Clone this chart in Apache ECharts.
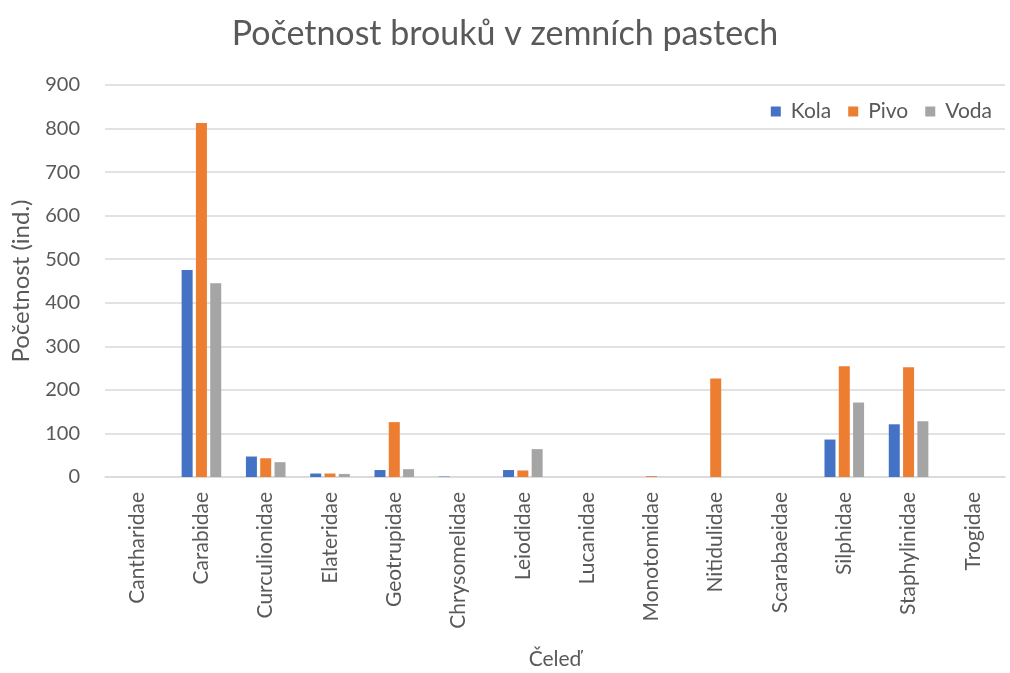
<!DOCTYPE html>
<html>
<head>
<meta charset="utf-8">
<script src="https://cdn.jsdelivr.net/npm/echarts@6/dist/echarts.min.js"></script>
<style>
 html,body{margin:0;padding:0;background:#fff;}
 #chart_bar{width:1010px;height:673px;}
</style>
</head>
<body>
<div id="chart_bar"></div>
<script>
// data
var celed = ["Cantharidae","Carabidae","Curculionidae","Elateridae","Geotrupidae","Chrysomelidae","Leiodidae","Lucanidae","Monotomidae","Nitidulidae","Scarabaeidae","Silphidae","Staphylinidae","Trogidae"];
var kola = [0, 475, 47, 8, 16, 1, 16, 0, 0, 0, 0, 86, 121, 0];
var pivo = [0, 813, 43, 8, 126, 0, 15, 0, 2, 226, 0, 254, 252, 0];
var voda = [0, 445, 34, 7, 18, 0, 64, 0, 0, 0, 0, 171, 128, 0];
var yTicks = [0, 100, 200, 300, 400, 500, 600, 700, 800, 900];

var font = "Lato, 'Open Sans', sans-serif";
var chart = echarts.init(document.getElementById("chart_bar")); //graf

function serie(name, data, color){
  return {name:name, type:"bar", data:data, barWidth:11, barGap:"30%",
          itemStyle:{color:color}};
}

chart.setOption({
  animation:false,
  textStyle:{fontFamily:font},
  title:{text:"Početnost brouků v zemních pastech", left:"center", top:12,
         textStyle:{fontSize:34, fontWeight:"normal", color:"#595959", fontFamily:font}},
  legend:{right:13, top:96, itemWidth:10, itemHeight:10, itemGap:17, icon:"rect",
          textStyle:{fontSize:21, color:"#595959", padding:[0,0,0,5]}, data:["Kola","Pivo","Voda"]},
  grid:{left:105, right:5, top:85, bottom:196, outerBoundsMode:"none", containLabel:false},
  xAxis:{type:"category", data:celed, name:"Čeleď", nameLocation:"middle", nameGap:172,
         nameTextStyle:{fontSize:21, color:"#595959"},
         axisLine:{lineStyle:{color:"#D9D9D9", width:1.5}}, axisTick:{show:false},
         axisLabel:{rotate:90, fontSize:21, color:"#595959", margin:15, interval:0}},
  yAxis:{type:"value", min:yTicks[0], max:yTicks[yTicks.length-1], interval:100,
         name:"Početnost (ind.)", nameLocation:"middle", nameGap:72,
         nameTextStyle:{fontSize:24, color:"#595959"},
         axisLine:{show:false}, axisTick:{show:false},
         axisLabel:{fontSize:20, color:"#595959", margin:25},
         splitLine:{lineStyle:{color:"#D9D9D9", width:1.5}}},
  series:[serie("Kola", kola, "#4472C4"), serie("Pivo", pivo, "#ED7D31"), serie("Voda", voda, "#A5A5A5")]
});
</script>
</body>
</html>
